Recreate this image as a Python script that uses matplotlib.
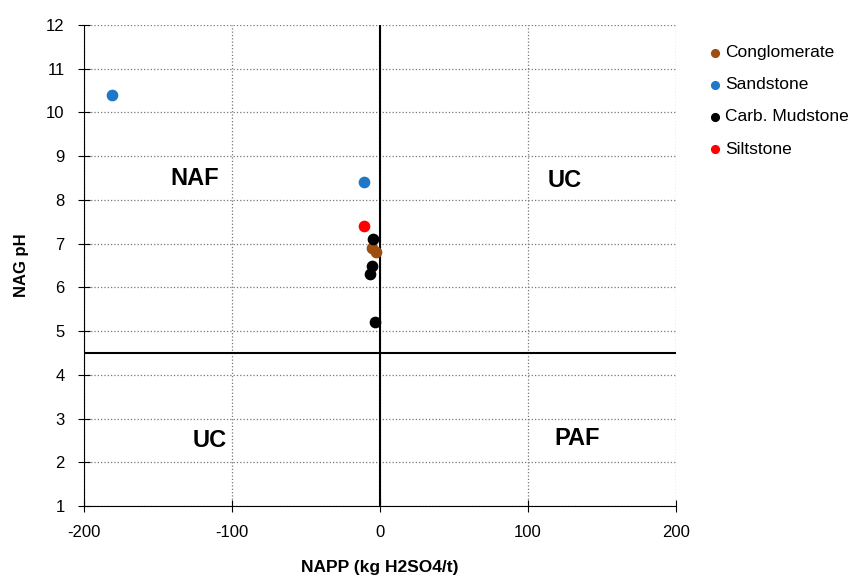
import matplotlib
matplotlib.use('Agg')
import matplotlib.pyplot as plt

plt.rcParams['font.family'] = ['Liberation Sans', 'DejaVu Sans']
plt.rcParams['axes.unicode_minus'] = False

# NAPP (kg H2SO4/t) vs NAG pH by rock type
conglomerate_x = [-5.5, -2.5]
conglomerate_y = [6.9, 6.8]
sandstone_x = [-181, -11]
sandstone_y = [10.4, 8.4]
mudstone_x = [-5, -5.5, -7, -3.5]
mudstone_y = [7.1, 6.5, 6.3, 5.2]
siltstone_x = [-11]
siltstone_y = [7.4]

fig = plt.figure(figsize=(8.61, 5.76), dpi=100)
ax = fig.add_axes([0.0976, 0.1215, 0.6876, 0.8351])

ax.scatter(conglomerate_x, conglomerate_y, s=55, color='#9c4f0e', label='Conglomerate', zorder=3)
ax.scatter(sandstone_x, sandstone_y, s=55, color='#1f77c8', label='Sandstone', zorder=3)
ax.scatter(mudstone_x, mudstone_y, s=55, color='black', label='Carb. Mudstone', zorder=3)
ax.scatter(siltstone_x, siltstone_y, s=55, color='#ff0000', label='Siltstone', zorder=3)

ax.axvline(0, color='black', linewidth=1.5, zorder=2)
ax.axhline(4.5, color='black', linewidth=1.5, zorder=2)

ax.set_xlim(-200, 200)
ax.set_ylim(1, 12)
ax.set_xticks([-200, -100, 0, 100, 200])
ax.set_yticks(range(1, 13))
ax.grid(True, color='#777777', linestyle=':', linewidth=0.9)
ax.spines['top'].set_visible(False)
ax.spines['right'].set_visible(False)
ax.tick_params(direction='inout', length=8, labelsize=12)
ax.tick_params(axis='x', pad=10)
ax.tick_params(axis='y', pad=10)

ax.set_xlabel('NAPP (kg H2SO4/t)', fontsize=12.5, weight='bold', labelpad=14)
ax.set_ylabel('NAG pH', fontsize=12, weight='bold', labelpad=12)

for txt, x, y in [('NAF', -125, 8.5), ('UC', 125, 8.45), ('UC', -115, 2.5), ('PAF', 133, 2.55)]:
    ax.text(x, y, txt, fontsize=17, weight='bold', ha='center', va='center')

fig.legend(loc='upper left', bbox_to_anchor=(0.81, 0.922), frameon=False, fontsize=12.5,
           handletextpad=-0.4, labelspacing=0.98, markerscale=0.75, borderaxespad=0.0,
           borderpad=0.0)

plt.savefig('out.png', dpi=100)
plt.close()
